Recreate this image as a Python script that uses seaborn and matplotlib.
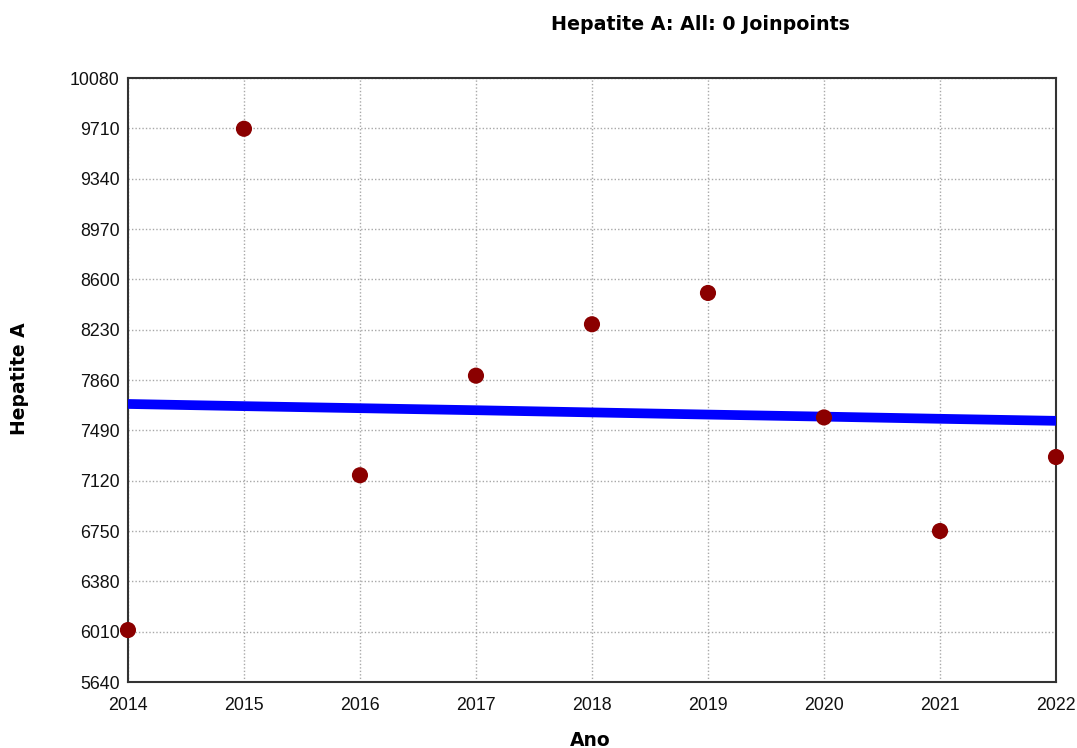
import matplotlib
matplotlib.use("Agg")
import matplotlib.pyplot as plt
import seaborn as sns
import pandas as pd

# Observed cases per year and the fitted trend (0 joinpoints)
years = [2014, 2015, 2016, 2017, 2018, 2019, 2020, 2021, 2022]
observed = [6022, 9707, 7160, 7892, 8270, 8500, 7585, 6750, 7294]
modeled = [7684, 7668, 7653, 7638, 7622, 7606, 7591, 7575, 7560]
y_ticks = [5640, 6010, 6380, 6750, 7120, 7490, 7860, 8230, 8600, 8970, 9340, 9710, 10080]

df = pd.DataFrame({"Ano": years, "obs": observed, "fit": modeled})

sns.set_theme(style="white")
plt.rcParams["font.family"] = ["Liberation Sans", "DejaVu Sans"]

fig = plt.figure(figsize=(10.77, 7.48), dpi=100)
ax = fig.add_axes([0.1188, 0.0882, 0.8617, 0.8075])

sns.lineplot(data=df, x="Ano", y="fit", ax=ax, color="#0000FF", linewidth=7,
             solid_capstyle="round", zorder=3)
sns.scatterplot(data=df, x="Ano", y="obs", ax=ax, color="#8B0000", s=135,
                edgecolor="none", zorder=4, clip_on=False)

ax.set_xlim(years[0], years[-1])
ax.set_ylim(y_ticks[0], y_ticks[-1])
ax.set_xticks(years)
ax.set_xticklabels([str(y) for y in years])
ax.set_yticks(y_ticks)
ax.set_yticklabels([str(v) for v in y_ticks])
ax.tick_params(axis="both", labelsize=12.8, colors="#111111", length=0)
ax.tick_params(axis="x", pad=11)
ax.tick_params(axis="y", pad=6)

ax.grid(True, color="#a8a8a8", linestyle=(0, (1, 1.5)), linewidth=1)
for sp in ax.spines.values():
    sp.set_color("#333333")
    sp.set_linewidth(1.5)

ax.set_xlabel("")
ax.set_ylabel("")
fig.text(590 / 1077, 1 - 740 / 748, "Ano", ha="center", va="center",
         fontsize=13.5, fontweight="bold", family="DejaVu Sans", color="black")
fig.text(20 / 1077, 1 - 379 / 748, "Hepatite A", ha="center", va="center",
         rotation=90, fontsize=13.5, fontweight="bold", family="DejaVu Sans",
         color="black")
fig.text(700 / 1077, 1 - 24 / 748, "Hepatite A: All: 0 Joinpoints", ha="center",
         va="center", fontsize=13.7, fontweight="bold", family="DejaVu Sans",
         color="black")

fig.savefig("out.png", dpi=100, facecolor="white")
